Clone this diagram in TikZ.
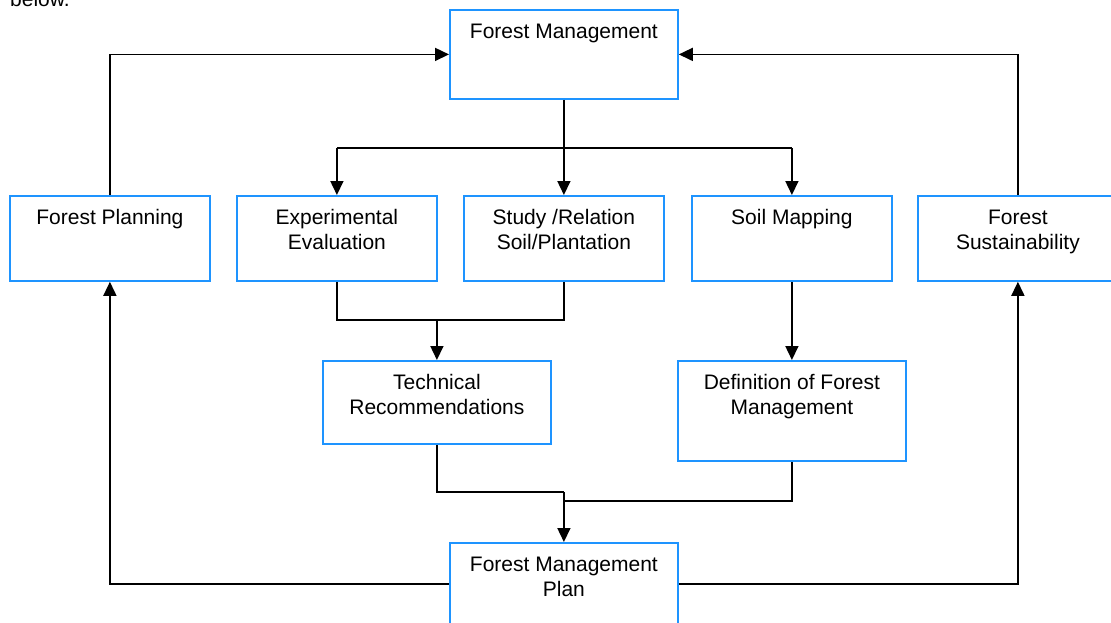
\documentclass[tikz,border=0pt]{standalone}
\usepackage{fontspec}
\setmainfont{Liberation Sans}
\usetikzlibrary{arrows.meta}
\definecolor{boxblue}{RGB}{30,148,255}
\begin{document}
\begin{tikzpicture}[x=1pt,y=-1pt,
  box/.style={draw=boxblue,line width=1.8pt,fill=white,rectangle,inner sep=0pt,anchor=north west},
  txt/.style={anchor=north,align=center,inner sep=0pt,font=\fontsize{21}{25}\selectfont},
  conn/.style={line width=1.6pt,black},
  arr/.style={conn,-{Triangle[length=14pt,width=13pt]}}]
\useasboundingbox (0,0) rectangle (1111,622);
\clip (0,0) rectangle (1111,622);
% partial text at top
\node[anchor=base west,inner sep=0pt,font=\fontsize{21}{25}\selectfont] (below) at (10,6) {below.};
% boxes
\node[box,minimum width=228pt,minimum height=89pt] (fm) at (449,9) {};
\node[box,minimum width=200pt,minimum height=85pt] (fp) at (9,195) {};
\node[box,minimum width=200pt,minimum height=85pt] (exp) at (236,195) {};
\node[box,minimum width=200pt,minimum height=85pt] (study) at (463,195) {};
\node[box,minimum width=200pt,minimum height=85pt] (soil) at (691,195) {};
\node[box,minimum width=200pt,minimum height=85pt] (fs) at (917,195) {};
\node[box,minimum width=228pt,minimum height=83pt] (tech) at (322,360) {};
\node[box,minimum width=228pt,minimum height=100pt] (def) at (677,360) {};
\node[box,minimum width=228pt,minimum height=82pt] (fmp) at (449,542) {};
% texts
\node[txt] (tfm) at ([yshift=-14.5pt]fm.north) {Forest Management};
\node[txt] (tfp) at ([yshift=-14.5pt]fp.north) {Forest Planning};
\node[txt] (texp) at ([yshift=-14.5pt]exp.north) {Experimental\\Evaluation};
\node[txt] (tstudy) at ([yshift=-14.5pt]study.north) {Study /Relation\\Soil/Plantation};
\node[txt] (tsoil) at ([yshift=-14.5pt]soil.north) {Soil Mapping};
\node[txt] (tfs) at ([yshift=-14.5pt]fs.north) {Forest\\Sustainability};
\node[txt] (ttech) at ([yshift=-14.5pt]tech.north) {Technical\\Recommendations};
\node[txt] (tdef) at ([yshift=-14.5pt]def.north) {Definition of Forest\\Management};
\node[txt] (tfmp) at ([yshift=-14.5pt]fmp.north) {Forest Management\\Plan};
% junction coordinates
\coordinate (bus) at (fm.south |- 0,148);
\coordinate (j1) at (tech.north |- 0,320);
\coordinate (j2) at (fmp.north |- 0,492);
\coordinate (j3) at (fmp.north |- 0,501);
% connectors
\draw[conn] (fm.south) -- (bus);
\draw[conn] (exp.north |- bus) -- (soil.north |- bus);
\draw[arr] (exp.north |- bus) -- (exp.north);
\draw[arr] (bus) -- (study.north);
\draw[arr] (soil.north |- bus) -- (soil.north);
\draw[arr] (fp.north) |- (fm.west);
\draw[arr] (fs.north) |- (fm.east);
\draw[conn] (exp.south) |- (j1) -| (study.south);
\draw[arr] (j1) -- (tech.north);
\draw[arr] (soil.south) -- (soil.south |- def.north);
\draw[conn] (tech.south) |- (j2);
\draw[conn] (soil.south |- def.south) |- (j3);
\draw[arr] (j2) -- (fmp.north);
\draw[arr] (fmp.west) -| (fp.south);
\draw[arr] (fmp.east) -| (fs.south);
\end{tikzpicture}
\end{document}
